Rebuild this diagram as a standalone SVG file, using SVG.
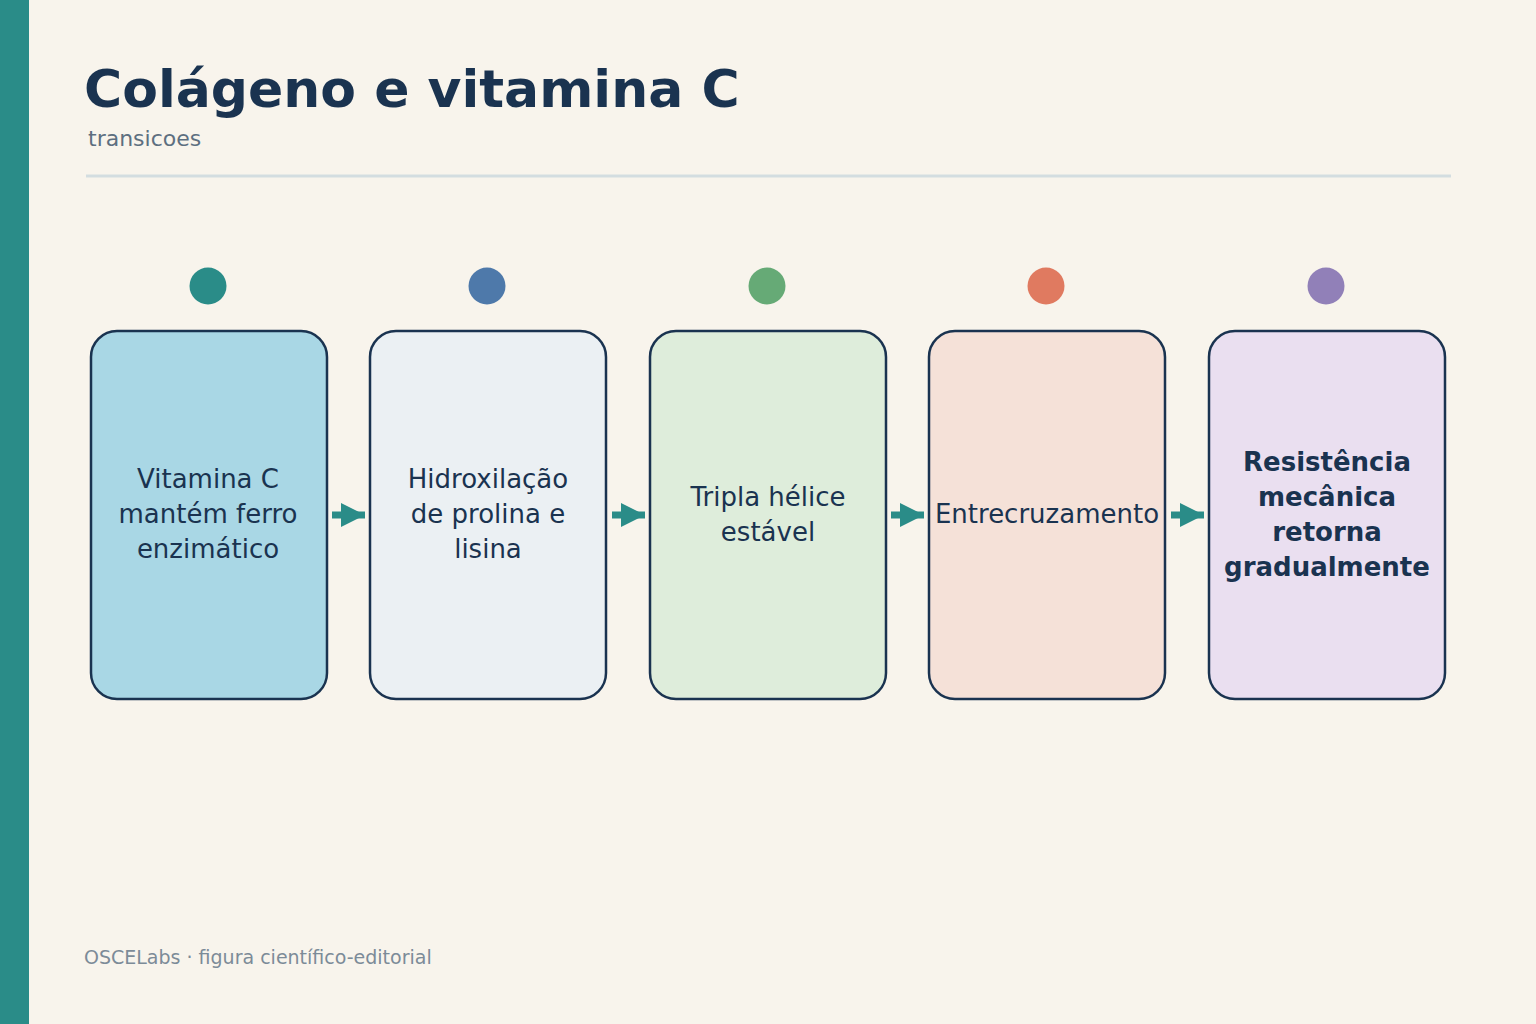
<svg xmlns="http://www.w3.org/2000/svg" width="1536" height="1024" viewBox="0 0 1536 1024">
<defs>
<style>
.box{stroke:#1a3350;stroke-width:2.5}
.t{font-family:"DejaVu Sans",sans-serif;font-size:26px;fill:#1a3350;text-anchor:middle}
.b{font-weight:bold}
.ar{stroke:#2a8c88;stroke-width:7}
</style>
<marker id="ah" viewBox="0 0 10 10" refX="10" refY="5" markerWidth="3.5" markerHeight="3.7" orient="auto" markerUnits="strokeWidth"><path d="M0,0L10,5L0,10z" fill="#2a8c88"/></marker>
</defs>
<rect width="1536" height="1024" fill="#f8f4ec"/>
<rect width="29" height="1024" fill="#2a8c88"/>
<text x="84" y="107" font-family="DejaVu Sans,sans-serif" font-size="52" font-weight="bold" fill="#1a3350">Colágeno e vitamina C</text>
<text x="88" y="146" font-family="DejaVu Sans,sans-serif" font-size="22" fill="#5d6f80">transicoes</text>
<line x1="86" y1="176" x2="1451" y2="176" stroke="#d3dde0" stroke-width="3"/>
<g id="n1"><circle cx="208" cy="286" r="18.5" fill="#2a8c88"/><rect class="box" x="91" y="331" width="236" height="368" rx="26" fill="#a9d7e5"/><text class="t" x="208" y="488">Vitamina C</text><text class="t" x="208" y="523">mantém ferro</text><text class="t" x="208" y="558">enzimático</text></g>
<g id="n2"><circle cx="487" cy="286" r="18.5" fill="#4e79aa"/><rect class="box" x="370" y="331" width="236" height="368" rx="26" fill="#ebf0f3"/><text class="t" x="488" y="488">Hidroxilação</text><text class="t" x="488" y="523">de prolina e</text><text class="t" x="488" y="558">lisina</text></g>
<g id="n3"><circle cx="767" cy="286" r="18.5" fill="#66aa76"/><rect class="box" x="650" y="331" width="236" height="368" rx="26" fill="#deeddb"/><text class="t" x="768" y="506">Tripla hélice</text><text class="t" x="768" y="541">estável</text></g>
<g id="n4"><circle cx="1046" cy="286" r="18.5" fill="#e07a60"/><rect class="box" x="929" y="331" width="236" height="368" rx="26" fill="#f5e1d8"/><text class="t" x="1047" y="523">Entrecruzamento</text></g>
<g id="n5"><circle cx="1326" cy="286" r="18.5" fill="#9180b8"/><rect class="box" x="1209" y="331" width="236" height="368" rx="26" fill="#eadff0"/><text class="t b" x="1327" y="471">Resistência</text><text class="t b" x="1327" y="506">mecânica</text><text class="t b" x="1327" y="541">retorna</text><text class="t b" x="1327" y="576">gradualmente</text></g>
<g id="connectors">
<line class="ar" x1="332" y1="515" x2="365" y2="515" marker-end="url(#ah)"/>
<line class="ar" x1="612" y1="515" x2="645" y2="515" marker-end="url(#ah)"/>
<line class="ar" x1="891" y1="515" x2="924" y2="515" marker-end="url(#ah)"/>
<line class="ar" x1="1171" y1="515" x2="1204" y2="515" marker-end="url(#ah)"/>
</g>
<text x="84" y="964" font-family="DejaVu Sans,sans-serif" font-size="19" fill="#7c8b98">OSCELabs · figura científico-editorial</text>
</svg>
